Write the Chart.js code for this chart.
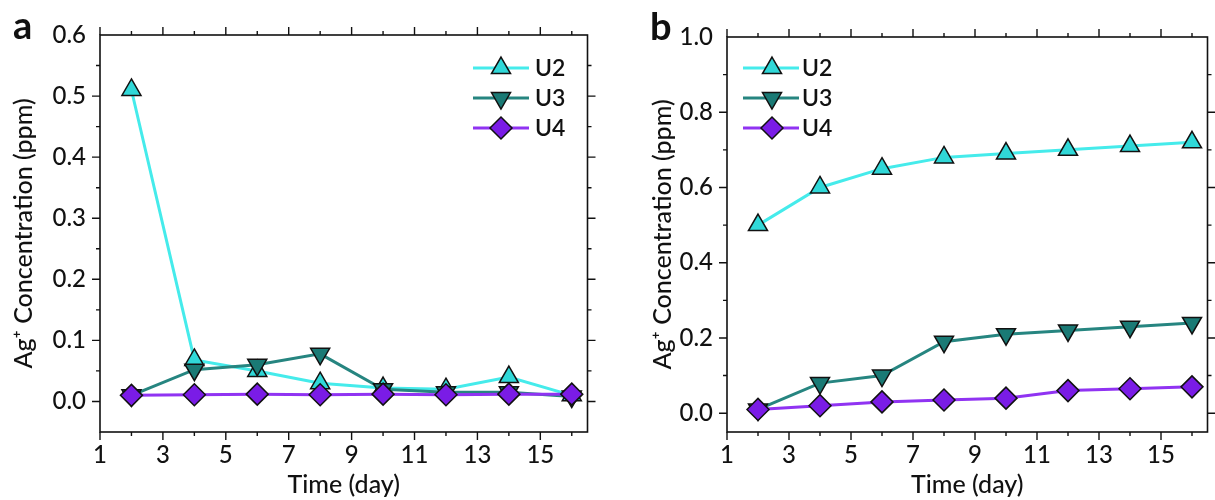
<!DOCTYPE html>
<html>
<head>
<meta charset="utf-8">
<script src="https://cdn.jsdelivr.net/npm/chart.js@4/dist/chart.umd.min.js"></script>
<style>
    html, body { margin: 0; padding: 0; background: #fff; overflow: hidden; width: 1215px; height: 500px; }
    .panel { position: absolute; top: 0; height: 500px; }
    #wrapA { left: 0; width: 600px; }
    #wrapB { left: 600px; width: 620px; }
</style>
</head>
<body>
<div class="panel" id="wrapA"><canvas id="chartA" width="600" height="500"></canvas></div>
<div class="panel" id="wrapB"><canvas id="chartB" width="620" height="500"></canvas></div>
<script>
// Sampling days (x)
const days = [2, 4, 6, 8, 10, 12, 14, 16];
const seriesNames = ['U2', 'U3', 'U4'];

// Panel a - Ag+ concentration per sampling day (ppm)
const aU2 = [0.51, 0.068, 0.05, 0.03, 0.022, 0.02, 0.04, 0.01];
const aU3 = [0.01, 0.052, 0.06, 0.078, 0.02, 0.015, 0.015, 0.008];
const aU4 = [0.01, 0.011, 0.012, 0.011, 0.012, 0.011, 0.012, 0.012];

// Panel b - cumulative Ag+ concentration (ppm)
const bU2 = [0.50, 0.60, 0.65, 0.68, 0.69, 0.70, 0.71, 0.72];
const bU3 = [0.01, 0.08, 0.10, 0.19, 0.21, 0.22, 0.23, 0.24];
const bU4 = [0.01, 0.02, 0.03, 0.035, 0.04, 0.06, 0.065, 0.07];

// tick positions and labels
const xTicks = [1, 2, 3, 4, 5, 6, 7, 8, 9, 10, 11, 12, 13, 14, 15, 16];
const xTickLabels = ['1', '3', '5', '7', '9', '11', '13', '15'];
const yTicksA = [0, 0.05, 0.1, 0.15, 0.2, 0.25, 0.3, 0.35, 0.4, 0.45, 0.5, 0.55, 0.6];
const yLabelsA = ['0.0', '0.1', '0.2', '0.3', '0.4', '0.5', '0.6'];
const yTicksB = [0, 0.1, 0.2, 0.3, 0.4, 0.5, 0.6, 0.7, 0.8, 0.9, 1.0];
const yLabelsB = ['0.0', '0.2', '0.4', '0.6', '0.8', '1.0'];

const FONT = 'Lato, "DejaVu Sans", sans-serif';
const INK = '#111';

const styles = {
    U2: { line: '#45EBEB', fill: '#30D8D8', shape: 'triangle', rotation: 0, order: 3 },
    U3: { line: '#268580', fill: '#1A7A75', shape: 'triangle', rotation: 180, order: 2 },
    U4: { line: '#9033F2', fill: '#7A1CE6', shape: 'rectRot', rotation: 0, order: 1 }
};

function makeDataset(name, values) {
    const s = styles[name];
    return {
        label: name,
        data: days.map((d, i) => ({ x: d, y: values[i] })),
        borderColor: s.line,
        borderWidth: 3,
        backgroundColor: s.fill,
        pointBackgroundColor: s.fill,
        pointBorderColor: INK,
        pointBorderWidth: 1.5,
        pointStyle: s.shape,
        pointRotation: s.rotation,
        pointRadius: 11,
        pointHoverRadius: 11,
        order: s.order,
        tension: 0,
        clip: false
    };
}

// label text for a tick value, '' when it is a minor tick
function yLabelFor(labels, v) {
    const hit = labels.find(l => Math.abs(Number(l) - v) < 1e-9);
    return hit || '';
}

// frame, outward ticks, legend and panel letter
const framePlugin = {
    id: 'frame',
    afterDraw(chart, args, o) {
        const ctx = chart.ctx;
        const area = chart.chartArea;
        const xs = chart.scales.x;
        const ys = chart.scales.y;
        ctx.save();
        ctx.strokeStyle = INK;
        ctx.lineWidth = 1.6;
        ctx.strokeRect(area.left, area.top, area.right - area.left, area.bottom - area.top);

        ctx.lineWidth = 1.4;
        ctx.beginPath();
        xs.ticks.forEach(t => {
            const px = xs.getPixelForValue(t.value);
            const len = t.value % 2 === 1 ? 8 : 4;
            ctx.moveTo(px, area.bottom); ctx.lineTo(px, area.bottom + len);
            ctx.moveTo(px, area.top); ctx.lineTo(px, area.top - len);
        });
        ys.ticks.forEach(t => {
            if (t.value >= ys.max - 1e-9) return;
            const py = ys.getPixelForValue(t.value);
            const len = t.label ? 8 : 4;
            ctx.moveTo(area.left, py); ctx.lineTo(area.left - len, py);
            ctx.moveTo(area.right, py); ctx.lineTo(area.right + len, py);
        });
        ctx.stroke();

        // legend
        const lg = o.legend;
        chart.data.datasets.forEach((ds, i) => {
            const y = lg.y + i * lg.dy;
            ctx.strokeStyle = ds.borderColor;
            ctx.lineWidth = 3;
            ctx.beginPath();
            ctx.moveTo(lg.x0, y); ctx.lineTo(lg.x1, y);
            ctx.stroke();
            ctx.fillStyle = ds.pointBackgroundColor;
            ctx.strokeStyle = ds.pointBorderColor;
            ctx.lineWidth = ds.pointBorderWidth;
            Chart.helpers.drawPoint(ctx, {
                pointStyle: ds.pointStyle,
                rotation: ds.pointRotation,
                radius: ds.pointRadius,
                borderWidth: ds.pointBorderWidth
            }, lg.marker, y);
            ctx.fillStyle = INK;
            ctx.font = '600 23px ' + FONT;
            ctx.textAlign = 'left';
            ctx.textBaseline = 'middle';
            ctx.fillText(ds.label, lg.text, y + 1);
        });

        // panel letter
        ctx.fillStyle = INK;
        ctx.font = 'bold 38px ' + FONT;
        ctx.textAlign = 'left';
        ctx.textBaseline = 'alphabetic';
        ctx.fillText(o.letter, o.letterX, o.letterY);
        ctx.restore();
    }
};

function makeChart(id, sets, cfg) {
    return new Chart(document.getElementById(id), {
        type: 'line',
        data: { datasets: seriesNames.map((n, i) => makeDataset(n, sets[i])) },
        plugins: [framePlugin],
        options: {
            responsive: false,
            animation: false,
            events: [],
            layout: { padding: { top: cfg.top, right: cfg.right, left: 0, bottom: 0 } },
            plugins: {
                legend: { display: false },
                tooltip: { enabled: false },
                frame: cfg.frame
            },
            scales: {
                x: {
                    type: 'linear',
                    min: 1,
                    max: 16.5,
                    afterBuildTicks: s => { s.ticks = xTicks.map(v => ({ value: v })); },
                    afterFit: s => { s.height = 68; },
                    grid: { display: false, drawTicks: false },
                    border: { display: false },
                    ticks: {
                        autoSkip: false,
                        maxRotation: 0,
                        padding: 9,
                        color: INK,
                        font: { family: FONT, size: 24, weight: 500 },
                        callback: v => xTickLabels.includes(String(v)) ? String(v) : ''
                    },
                    title: {
                        display: true,
                        text: 'Time (day)',
                        color: INK,
                        font: { family: FONT, size: 25, weight: 500 },
                        padding: { top: 0, bottom: 0 }
                    }
                },
                y: {
                    min: -0.05,
                    max: cfg.yMax,
                    afterBuildTicks: s => { s.ticks = cfg.yTicks.map(v => ({ value: v })); },
                    afterFit: s => { s.width = cfg.yWidth; },
                    grid: { display: false, drawTicks: false },
                    border: { display: false },
                    ticks: {
                        autoSkip: false,
                        padding: 14,
                        color: INK,
                        font: { family: FONT, size: 24, weight: 500 },
                        callback: v => yLabelFor(cfg.yLabels, v)
                    },
                    title: {
                        display: true,
                        text: 'Ag⁺ Concentration (ppm)',
                        color: INK,
                        font: { family: FONT, size: 25, weight: 500 },
                        padding: { top: cfg.titlePad, bottom: 0 }
                    }
                }
            }
        }
    });
}

makeChart('chartA', [aU2, aU3, aU4], {
    top: 35, right: 8, yWidth: 100, titlePad: 9, yMax: 0.6,
    yTicks: yTicksA, yLabels: yLabelsA,
    frame: {
        letter: 'a', letterX: 13, letterY: 39,
        legend: { x0: 473, x1: 529, marker: 501, text: 535, y: 68, dy: 30 }
    }
});

makeChart('chartB', [bU2, bU3, bU4], {
    top: 37, right: 3.5, yWidth: 127, titlePad: 48, yMax: 1.0,
    yTicks: yTicksB, yLabels: yLabelsB,
    frame: {
        letter: 'b', letterX: 50, letterY: 40,
        legend: { x0: 143, x1: 199, marker: 172, text: 202, y: 68, dy: 30 }
    }
});
</script>
</body>
</html>
